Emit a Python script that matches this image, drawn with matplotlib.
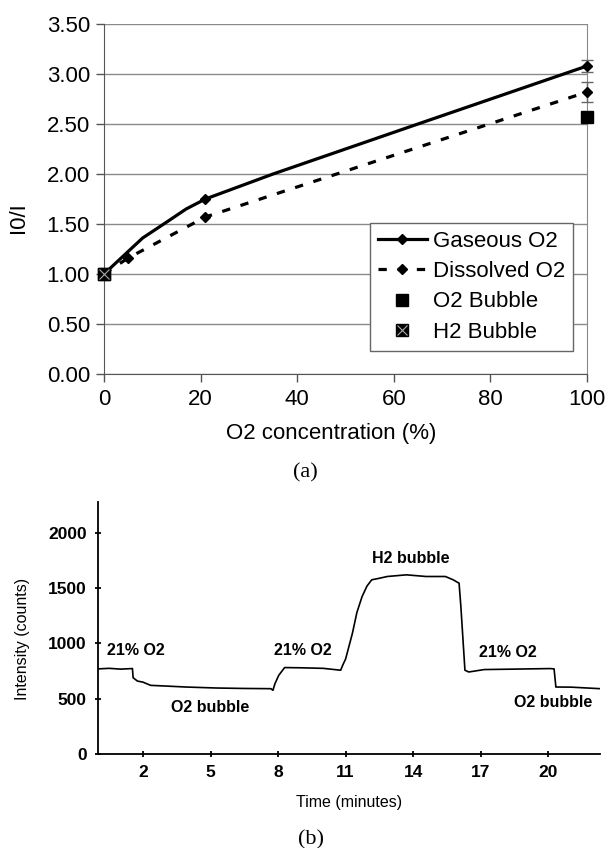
import numpy as np
import matplotlib.pyplot as plt
from matplotlib.legend_handler import HandlerTuple

# ---------------- data (a) ----------------
gas_x = [0, 8, 13, 17, 21, 35, 65, 100]
gas_y = [1.00, 1.36, 1.52, 1.65, 1.75, 2.00, 2.50, 3.08]
gas_marks = [0, 4, 7]          # points that carry a marker
gas_err = 0.06

dis_x = [0, 5, 21, 100]
dis_y = [1.00, 1.16, 1.57, 2.82]
dis_err = 0.10

o2b_x = [0, 100]
o2b_y = [1.00, 2.57]
h2b_x = [0]
h2b_y = [1.00]

yticks_a = [0.0, 0.5, 1.0, 1.5, 2.0, 2.5, 3.0, 3.5]
xticks_a = [0, 20, 40, 60, 80, 100]

# ---------------- data (b) ----------------
t_min = [0.0, 0.5, 1.0, 1.53, 1.56, 1.75, 2.0, 2.34, 3.0, 3.9, 5.27, 6.5, 7.68, 7.77,
         7.86, 8.03, 8.29, 9.0, 10.0, 10.78, 10.87, 11.0, 11.3, 11.5, 11.73, 11.95, 12.16,
         12.5, 12.85, 13.7, 14.57, 15.43, 15.78, 16.04, 16.12, 16.3, 16.47, 17.16,
         18.5, 20.09, 20.26, 20.34, 21.0, 22.3]
counts = [770, 775, 768, 773, 690, 660, 650, 621, 615, 606, 597, 593, 591, 576,
          636, 712, 782, 780, 775, 758, 803, 860, 1091, 1280, 1424, 1520, 1576,
          1590, 1606, 1621, 1606, 1606, 1576, 1545, 1333, 758, 742, 764,
          768, 773, 770, 606, 605, 591]

xticks_b = [2, 5, 8, 11, 14, 17, 20]
yticks_b = [0, 500, 1000, 1500, 2000]

notes = [("21% O2", 1.69, 939), ("O2 bubble", 5.0, 424), ("21% O2", 9.1, 939),
         ("H2 bubble", 13.9, 1773), ("21% O2", 18.2, 918), ("O2 bubble", 20.2, 470)]

plt.rcParams['font.family'] = ['Liberation Sans', 'DejaVu Sans']

W, H = 607, 848
fig = plt.figure(figsize=(W / 100, H / 100), dpi=100)

# ======================= panel (a) =======================
ax = fig.add_axes([104 / W, 1 - 374 / H, 483 / W, 350 / H])
ax.set_xlim(0, 100)
ax.set_ylim(0, 3.5)
ax.set_yticks(yticks_a)
ax.set_yticklabels(['%.2f' % v for v in yticks_a])
ax.set_xticks(xticks_a)
ax.grid(axis='y', color='#8a8a8a', lw=1.0)
ax.set_axisbelow(True)
ax.spines['top'].set_visible(False)
ax.spines['right'].set_color('#8a8a8a')
ax.spines['left'].set_color('#555555')
ax.spines['bottom'].set_color('#555555')
ax.tick_params(labelsize=16, length=6, width=1, color='#555555')
ax.tick_params(axis='x', pad=5)
ax.tick_params(axis='y', pad=4)

l_gas, = ax.plot(gas_x, gas_y, color='black', lw=2.3, marker='D', ms=5,
                 markevery=gas_marks, clip_on=False, zorder=4)
ax.errorbar([gas_x[-1]], [gas_y[-1]], yerr=gas_err, fmt='none', ecolor='#666666',
            elinewidth=1, capsize=4, capthick=1, clip_on=False, zorder=3)
l_dis, = ax.plot(dis_x, dis_y, color='black', lw=2.3, ls=(0, (2.6, 3.4)), marker='D', ms=5,
                 clip_on=False, zorder=4)
ax.errorbar([dis_x[-1]], [dis_y[-1]], yerr=dis_err, fmt='none', ecolor='#666666',
            elinewidth=1, capsize=4, capthick=1, clip_on=False, zorder=3)
l_o2, = ax.plot(o2b_x, o2b_y, ls='none', marker='s', ms=8, color='black', clip_on=False, zorder=5)
l_h2s, = ax.plot(h2b_x, h2b_y, ls='none', marker='s', ms=8, color='black', clip_on=False, zorder=6)
l_h2x, = ax.plot(h2b_x, h2b_y, ls='none', marker='x', ms=7, mew=0.8, color='#aaaaaa',
                 clip_on=False, zorder=7)

ax.set_xlabel('O2 concentration (%)', fontsize=16, va='center')
ax.xaxis.set_label_coords((331 - 104) / 483, (374 - 434) / 350)
ax.set_ylabel('I0/I', fontsize=16, va='center')
ax.yaxis.set_label_coords((18 - 104) / 483, (374 - 218) / 350)

leg = ax.legend([l_gas, l_dis, l_o2, (l_h2s, l_h2x)],
                ['Gaseous O2', 'Dissolved O2', 'O2 Bubble', 'H2 Bubble'],
                handler_map={tuple: HandlerTuple(ndivide=1)},
                loc='upper left', bbox_to_anchor=((370 - 104) / 483, (374 - 223) / 350),
                fontsize=16, frameon=True, fancybox=False, edgecolor='#666666', framealpha=1,
                handlelength=2.2, handletextpad=0.3, borderpad=0.35, labelspacing=0.42,
                borderaxespad=0)
leg.get_frame().set_linewidth(1.0)

fig.text(305 / W, 1 - 473 / H, '(a)', ha='center', va='center', fontsize=16,
         family=['Liberation Serif', 'DejaVu Serif'])

# ======================= panel (b) =======================
bx = fig.add_axes([98 / W, 1 - 754 / H, 502 / W, 252 / H])
bx.plot(t_min, counts, color='black', lw=1.2)
bx.set_xlim(0, 22.3)
bx.set_ylim(0, 2280)
bx.set_xticks(xticks_b)
bx.set_yticks(yticks_b)
bx.spines['top'].set_visible(False)
bx.spines['right'].set_visible(False)
bx.spines['left'].set_linewidth(1.3)
bx.spines['bottom'].set_linewidth(1.3)
bx.tick_params(direction='inout', length=4, width=1.3, labelsize=12.5, pad=6)
for lab in bx.get_xticklabels() + bx.get_yticklabels():
    lab.set_fontweight('bold')

for txt, tx, ty in notes:
    bx.text(tx, ty, txt, ha='center', va='center', fontsize=11.5, fontweight='bold')

bx.set_xlabel('Time (minutes)', fontsize=11.5, va='center')
bx.xaxis.set_label_coords(0.5, (754 - 803) / 252)
bx.set_ylabel('Intensity (counts)', fontsize=11.5, va='center')
bx.yaxis.set_label_coords((23 - 98) / 502, (754 - 639) / 252)

fig.text(311 / W, 1 - 840 / H, '(b)', ha='center', va='center', fontsize=16,
         family=['Liberation Serif', 'DejaVu Serif'])

fig.savefig('out.png', dpi=100, facecolor='white')
